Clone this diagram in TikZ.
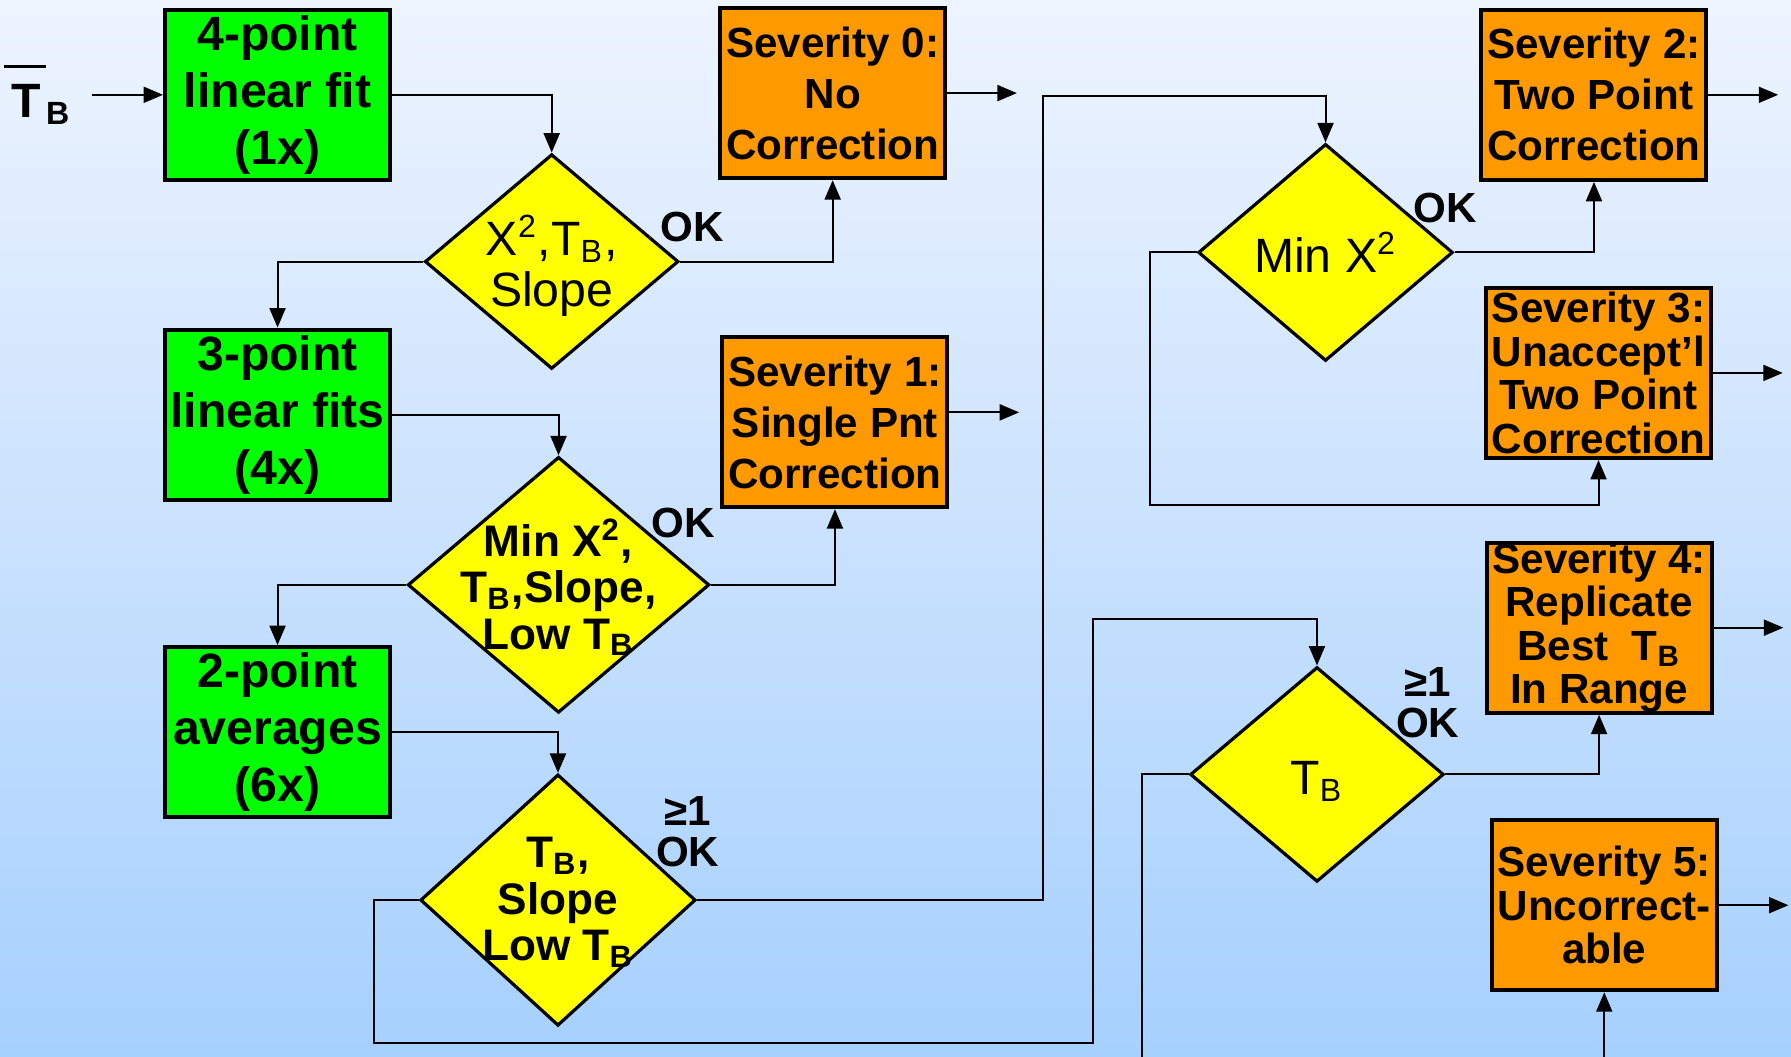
\documentclass[tikz,border=0pt]{standalone}
\usepackage{fontspec}
\setmainfont{Liberation Sans}
\usetikzlibrary{positioning,arrows.meta,shapes.geometric}
\definecolor{FitGreen}{RGB}{0,255,0}
\definecolor{SevOrange}{RGB}{255,153,0}
\definecolor{TestYellow}{RGB}{255,255,0}
\definecolor{SkyTop}{RGB}{238,244,254}
\definecolor{SkyBottom}{RGB}{166,208,254}
\newcommand{\TB}{T\textsubscript{B}}
\newcommand{\barT}{\vbox{\hrule height 0.9pt\kern4pt\hbox{\kern2pt T\kern1.2pt}}}

\begin{document}
\begin{tikzpicture}[x=0.1mm, y=-0.1mm,
  every node/.style={align=center, inner sep=0pt},
  fitbox/.style={draw, line width=1pt, fill=FitGreen, minimum width=19.7mm, minimum height=14.9mm,
    font=\bfseries\fontsize{12}{14.2}\selectfont},
  sevbox/.style={draw, line width=1pt, fill=SevOrange, minimum width=19.7mm, minimum height=14.9mm,
    font=\bfseries\fontsize{10.5}{12.7}\selectfont},
  sevtight/.style={font=\bfseries\fontsize{10.5}{10.8}\selectfont},
  test/.style={diamond, draw, line width=0.8pt, fill=TestYellow},
  testtext/.style={font=\fontsize{12}{12.8}\selectfont},
  testbold/.style={font=\bfseries\fontsize{11}{11.6}\selectfont},
  oklabel/.style={font=\bfseries\fontsize{10.5}{10.2}\selectfont},
  flow/.style={-{Triangle[length=1.7mm, width=1.4mm]}, line width=0.5pt}]

  % background
  \shade[top color=SkyTop, bottom color=SkyBottom] (0,0) rectangle (1568,925);
  \clip (0,0) rectangle (1568,925);

  % input and fits
  \node[font=\bfseries\fontsize{12}{14}\selectfont] (tb) at (33,83) {\barT\textsubscript{B}};
  \node[fitbox] (fit4) at (243,83) {4-point\\linear fit\\(1x)};
  \node[fitbox, below=12.75mm of fit4] (fit3) {3-point\\linear fits\\(4x)};
  \node[fitbox, below=12.55mm of fit3] (avg2) {2-point\\averages\\(6x)};

  % severity boxes
  \node[sevbox] (sev0) at (729,81.5) {Severity 0:\\No\\Correction};
  \node[sevbox] (sev1) at (731,369.5) {Severity 1:\\Single Pnt\\Correction};
  \node[sevbox] (sev2) at (1395.5,83) {Severity 2:\\Two Point\\Correction};
  \node[sevbox, sevtight] (sev3) at (1399.5,326.5) {Severity 3:\\Unaccept’l\\Two Point\\Correction};
  \node[sevbox, sevtight] (sev4) at (1400,549.5) {Severity 4:\\Replicate\\Best~ \TB\\In Range};
  \node[sevbox, sevtight] (sev5) at (1404.5,792.5) {Severity 5:\\Uncorrect-\\able};

  % tests
  \node[test, minimum width=22.2mm, minimum height=18.8mm] (chk1) at (483,229) {};
  \node[test, minimum width=26.4mm, minimum height=22.4mm] (chk2) at (489,512) {};
  \node[test, minimum width=24.1mm, minimum height=22.0mm] (chk3) at (488.5,788) {};
  \node[test, minimum width=22.3mm, minimum height=19.0mm] (chk4) at (1160.5,221) {};
  \node[test, minimum width=22.2mm, minimum height=18.8mm] (chk5) at (1153,678) {};
  \node[testtext] (chk1t) at (483,233) {X\textsuperscript{2},\TB,\\Slope};
  \node[testbold] (chk2t) at (489,514) {Min X\textsuperscript{2},\\\TB,Slope,\\Low \TB};
  \node[testbold] (chk3t) at (488.5,790) {\TB,\\Slope\\Low \TB};
  \node[testtext] (chk4t) at (1160.5,221) {Min X\textsuperscript{2}};
  \node[testtext] (chk5t) at (1153,684) {\TB};

  % pass labels
  \node[oklabel] (ok1) at (606,199) {OK};
  \node[oklabel] (ok2) at (598,458) {OK};
  \node[oklabel] (ok3) at (602,728) {≥1\\OK};
  \node[oklabel] (ok4) at (1265,182) {OK};
  \node[oklabel] (ok5) at (1250,615) {≥1\\OK};

  \coordinate (j1) at (913,84);
  \coordinate (j2) at (1007,442);
  \coordinate (j3) at (327,913);
  \coordinate (j4) at (957,542);
  \coordinate (j5) at (1000,980);

  \draw[flow, shorten <=5pt] (tb.east |- fit4) -- (fit4);
  \foreach \a/\b in {fit4.east/chk1.north, chk1.east/sev0.south, chk1.west/fit3.north,
                     fit3.east/chk2.north, chk2.east/sev1.south, chk2.west/avg2.north,
                     avg2.east/chk3.north, chk4.east/sev2.south, chk5.east/sev4.south}
    \draw[flow] (\a) -| (\b);
  \draw[flow] (chk3.east) -| (j1) -| (chk4.north);
  \draw[flow] (chk4.west) -| (j2) -| (sev3.south);
  \draw[flow] (chk3.west) -| (j3) -| (j4) -| (chk5.north);
  \draw[flow] (chk5.west) -| (j5) -| (sev5.south);
  \foreach \s/\dy in {sev0/0,sev1/0.85,sev2/0,sev3/0,sev4/0,sev5/0}
    \draw[flow] ([yshift=\dy mm]\s.east) -- ++(61,0);
\end{tikzpicture}
\end{document}
